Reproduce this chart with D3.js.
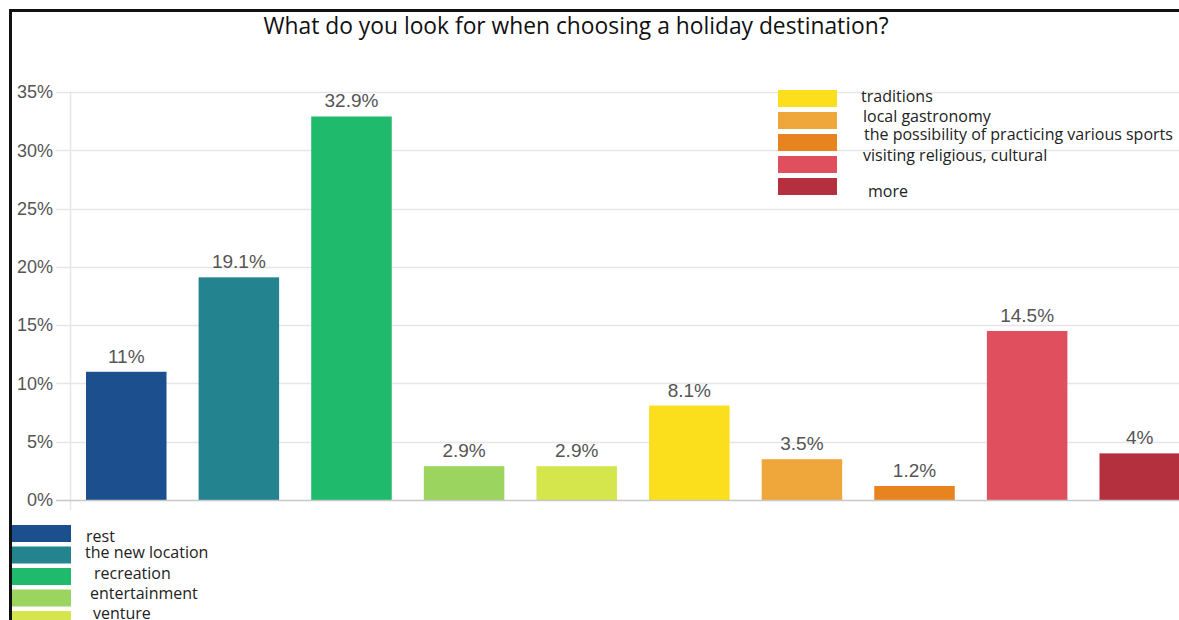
<!DOCTYPE html>
<html>
<head>
<meta charset="utf-8">
<script src="https://cdn.jsdelivr.net/npm/d3@7/dist/d3.min.js"></script>
<style>
  html, body { margin: 0; padding: 0; background: #fff; overflow: hidden; }
  svg { display: block; }
</style>
</head>
<body>
<svg id="chart" width="1179" height="620"></svg>
<script>
const title = "What do you look for when choosing a holiday destination?";
const categories = ["rest", "the new location", "recreation", "entertainment", "venture",
  "traditions", "local gastronomy", "the possibility of practicing various sports",
  "visiting religious, cultural", "more"];
const values = [11, 19.1, 32.9, 2.9, 2.9, 8.1, 3.5, 1.2, 14.5, 4];
const valueLabels = ["11%", "19.1%", "32.9%", "2.9%", "2.9%", "8.1%", "3.5%", "1.2%", "14.5%", "4%"];
const colors = ["#1b4f8e", "#23838f", "#1fba6b", "#9bd55f", "#d5e54c",
  "#fbdf1c", "#efa73c", "#e8841f", "#df4f5e", "#b5303f"];
const yTicks = [0, 5, 10, 15, 20, 25, 30, 35];

(function draw() {
  const svg = d3.select("#chart");
  const W = 1179;

  // plot area
  const plotLeft = 70, plotRight = 1196, plotTop = 92, plotBottom = 500;

  const x = d3.scaleBand()
    .domain(categories)
    .range([plotLeft, plotRight])
    .paddingInner(0.285)
    .paddingOuter(0.142);

  const y = d3.scaleLinear().domain([0, 35]).range([plotBottom, plotTop]);

  // frame
  svg.append("line").attr("x1", 10).attr("x2", W).attr("y1", 10.5).attr("y2", 10.5)
    .attr("stroke", "#111").attr("stroke-width", 3);
  svg.append("line").attr("x1", 10.5).attr("x2", 10.5).attr("y1", 9).attr("y2", 620)
    .attr("stroke", "#111").attr("stroke-width", 3);

  // title
  svg.append("text")
    .attr("x", 576).attr("y", 34)
    .attr("text-anchor", "middle")
    .style("font-family", "'Open Sans', 'Noto Sans', sans-serif")
    .style("font-size", "22.8px")
    .attr("fill", "#111")
    .text(title);

  // horizontal grid
  svg.append("g")
    .selectAll("line")
    .data(yTicks.filter(d => d > 0))
    .join("line")
    .attr("x1", plotLeft - 14).attr("x2", W)
    .attr("y1", d => Math.round(y(d)) + 0.5).attr("y2", d => Math.round(y(d)) + 0.5)
    .attr("stroke", "#e6e6e6").attr("stroke-width", 1.5);

  // vertical axis line
  svg.append("line").attr("x1", plotLeft + 0.5).attr("x2", plotLeft + 0.5)
    .attr("y1", plotTop).attr("y2", plotBottom + 10)
    .attr("stroke", "#e6e6e6").attr("stroke-width", 1.5);

  // y axis labels
  const yAxis = d3.axisLeft(y).tickValues(yTicks).tickFormat(d => d + "%").tickSize(0).tickPadding(17);
  const gy = svg.append("g").attr("transform", `translate(${plotLeft},0)`).call(yAxis);
  gy.select(".domain").remove();
  gy.selectAll("text")
    .style("font-family", "'Liberation Sans', Arial, sans-serif")
    .style("font-size", "18px")
    .attr("fill", "#555");

  // bars
  svg.append("g")
    .selectAll("rect")
    .data(categories)
    .join("rect")
    .attr("x", d => x(d))
    .attr("y", (d, i) => y(values[i]))
    .attr("width", x.bandwidth())
    .attr("height", (d, i) => y(0) - y(values[i]))
    .attr("fill", (d, i) => colors[i]);

  // baseline
  svg.append("line").attr("x1", plotLeft - 14).attr("x2", W)
    .attr("y1", plotBottom + 0.5).attr("y2", plotBottom + 0.5)
    .attr("stroke", "#c8c8c8").attr("stroke-width", 1.5);

  // value labels
  svg.append("g")
    .selectAll("text")
    .data(categories)
    .join("text")
    .attr("x", d => x(d) + x.bandwidth() / 2)
    .attr("y", (d, i) => y(values[i]) - 9)
    .attr("text-anchor", "middle")
    .style("font-family", "'Liberation Sans', Arial, sans-serif")
    .style("font-size", "19px")
    .attr("fill", "#555")
    .text((d, i) => valueLabels[i]);

  const legendFont = "'Open Sans', 'Noto Sans', sans-serif";

  // legend, first five categories (bottom left)
  const legendA = svg.append("g");
  const aRows = [0, 1, 2, 3, 4];
  const aTextX = [86, 85, 94, 90, 93];
  const aTextY = [542, 558, 579, 599, 619];
  legendA.selectAll("rect")
    .data(aRows)
    .join("rect")
    .attr("x", 12).attr("y", (d, i) => 525 + i * 21.5)
    .attr("width", 59).attr("height", 17)
    .attr("fill", d => colors[d]);
  legendA.selectAll("text")
    .data(aRows)
    .join("text")
    .attr("x", (d, i) => aTextX[i])
    .attr("y", (d, i) => aTextY[i])
    .style("font-family", legendFont)
    .style("font-size", "16px")
    .attr("fill", "#222")
    .text(d => categories[d]);

  // legend, last five categories (top right)
  const legendB = svg.append("g");
  const bRows = [5, 6, 7, 8, 9];
  const bTextX = [861, 863, 864, 863, 868];
  const bTextY = [102, 122, 140, 161, 197];
  legendB.selectAll("rect")
    .data(bRows)
    .join("rect")
    .attr("x", 778).attr("y", (d, i) => 90 + i * 22)
    .attr("width", 59).attr("height", 17)
    .attr("fill", d => colors[d]);
  legendB.selectAll("text")
    .data(bRows)
    .join("text")
    .attr("x", (d, i) => bTextX[i])
    .attr("y", (d, i) => bTextY[i])
    .style("font-family", legendFont)
    .style("font-size", "16px")
    .attr("fill", "#222")
    .text(d => categories[d]);
})();
</script>
</body>
</html>
